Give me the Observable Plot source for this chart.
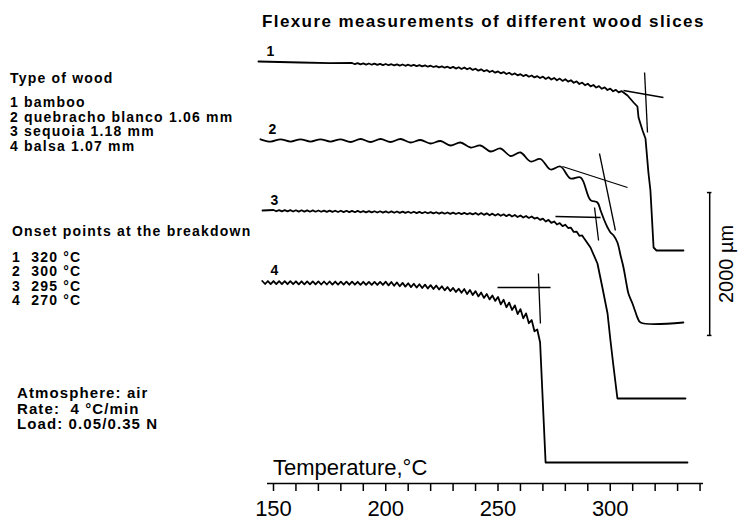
<!DOCTYPE html>
<html><head><meta charset="utf-8">
<script src="https://cdn.jsdelivr.net/npm/d3@7"></script>
<script src="https://cdn.jsdelivr.net/npm/@observablehq/plot@0.6"></script>
<style>
body{margin:0;background:#fff;}
#wrap{position:relative;width:741px;height:529px;overflow:hidden;font-family:"Liberation Sans",Arial,sans-serif;color:#000;background:#fff;}
#wrap svg{position:absolute;left:0;top:0;}
.t{position:absolute;white-space:pre;line-height:1;}
</style></head><body><div id="wrap"></div>
<script>
// ---------------- data ----------------
const chartTitle = "Flexure measurements of different wood slices";
const xTitle = "Temperature,\u00B0C";
const curveIds = ["1", "2", "3", "4"];
const woodTypes = ["bamboo", "quebracho blanco 1.06 mm", "sequoia 1.18 mm", "balsa 1.07 mm"];
const onsetTemps = [320, 300, 295, 270];
const conditions = ["Atmosphere: air", "Rate:  4 \u00B0C/min", "Load: 0.05/0.35 N"];
const curveOffsets = [0, -1100, -2100, -3100]; // vertical shift of each trace (µm)
const xTicks = [150,160,170,180,190,200,210,220,230,240,250,260,270,280,290,300,310,320,330,340];
const xTickLabels = [150, 200, 250, 300];
const scaleBarT = 344.3;
const scaleBarY = [-1835, -3835];   // 2000 µm
const scaleBarLabel = "2000 \u00B5m";

// [temperature °C, deflection µm]
const bamboo = [[143.3,0],[162,-14],[175,-22],[185,-21],[186.25,-38],[187.5,-23],[188.75,-40],[190,-26],[191.25,-43],[192.5,-28],[193.75,-45],[195,-30],[196.25,-48],[197.5,-33],[198.75,-50],[200,-35],[201.25,-52],[202.5,-38],[203.75,-55],[205,-40],[206.25,-57],[207.5,-42],[208.75,-60],[210,-45],[211.25,-62],[212.5,-47],[213.75,-64],[215,-50],[216.25,-68],[217.5,-54],[218.75,-73],[220,-59],[221.25,-77],[222.5,-64],[223.75,-82],[225,-69],[226.25,-87],[227.5,-73],[228.75,-92],[230,-75],[231.25,-99],[232.5,-80],[233.75,-104],[235,-84],[236.25,-109],[237.5,-91],[238.75,-118],[240,-101],[241.25,-128],[242.5,-110],[243.75,-137],[245,-120],[246.25,-147],[247.5,-129],[248.75,-156],[250,-139],[251.25,-166],[252.5,-148],[253.75,-175],[255,-158],[256.25,-185],[257.5,-167],[258.75,-194],[260,-177],[261.25,-204],[262.5,-186],[263.75,-213],[265,-196],[266.25,-223],[267.5,-205],[268.75,-232],[270,-212],[271.25,-244],[272.5,-221],[273.75,-253],[275,-230],[276.25,-263],[277.5,-239],[278.75,-272],[280,-248],[281.25,-282],[282.5,-262],[283.75,-298],[285,-279],[286.25,-315],[287.5,-295],[288.75,-332],[290,-312],[291.25,-348],[292.5,-329],[293.75,-365],[295,-345],[296.25,-382],[297.5,-362],[298.75,-399],[300,-380],[301.25,-416],[302.5,-397],[303.75,-433],[305,-414],[305.9,-434],[307.7,-476],[310.4,-574],[312.1,-630],[312.6,-784],[314.4,-966],[315.7,-1078],[317,-1554],[317.9,-1806],[319.3,-2604],[320.6,-2646],[332.6,-2646]];
const quebracho = [[144.2,11],[148.7,-22],[153.1,11],[157.6,-22],[162.0,11],[166.5,-22],[170.9,11],[175.4,-22],[179.8,11],[184.3,-27],[188.8,15],[193.2,-27],[197.7,15],[202.1,-27],[206.6,15],[211.0,-34],[215.5,1],[219.9,-48],[224.4,-13],[228.8,-76],[233.3,-34],[237.8,-104],[242.2,-76],[246.7,-160],[251.1,-118],[255.6,-223],[260.0,-174],[264.5,-300],[268.9,-265],[273.4,-412],[277.8,-370],[282.3,-538],[286.8,-524],[291.2,-840],[294.3,-874],[295.7,-986],[297.4,-1126],[298.8,-1224],[300.1,-1294],[301.5,-1336],[303.2,-1434],[304.6,-1616],[305.9,-1784],[307.2,-2008],[308.1,-2148],[309.9,-2288],[311.3,-2414],[312.1,-2484],[313.5,-2554],[332.6,-2554]];
const sequoia = [[145.1,14],[150,21],[151.25,3],[152.5,20],[153.75,2],[155,19],[156.25,1],[157.5,19],[158.75,0],[160,18],[161.25,-1],[162.5,17],[163.75,-2],[165,16],[166.25,-3],[167.5,15],[168.75,-3],[170,14],[171.25,-4],[172.5,13],[173.75,-5],[175,12],[176.25,-6],[177.5,11],[178.75,-7],[180,11],[181.25,-8],[182.5,10],[183.75,-9],[185,9],[186.25,-10],[187.5,8],[188.75,-11],[190,6],[191.25,-12],[192.5,5],[193.75,-13],[195,4],[196.25,-14],[197.5,3],[198.75,-16],[200,2],[201.25,-17],[202.5,1],[203.75,-18],[205,0],[206.25,-19],[207.5,-1],[208.75,-20],[210,-3],[211.25,-21],[212.5,-4],[213.75,-22],[215,-5],[216.25,-24],[217.5,-7],[218.75,-25],[220,-8],[221.25,-27],[222.5,-10],[223.75,-29],[225,-12],[226.25,-31],[227.5,-14],[228.75,-33],[230,-16],[231.25,-35],[232.5,-18],[233.75,-37],[235,-20],[236.25,-39],[237.5,-22],[238.75,-40],[240,-20],[241.25,-45],[242.5,-22],[243.75,-47],[245,-26],[246.25,-52],[247.5,-30],[248.75,-56],[250,-34],[251.25,-60],[252.5,-39],[253.75,-65],[255,-43],[256.25,-70],[257.5,-49],[258.75,-77],[260,-56],[261.25,-84],[262.5,-63],[263.75,-90],[265,-70],[266.25,-99],[267.5,-85],[268.75,-118],[270,-99],[271.25,-140],[272.5,-117],[273.75,-159],[275,-139],[276.25,-182],[277.5,-162],[278.75,-205],[280,-185],[281.25,-231],[282.5,-227],[283.75,-286],[285,-281],[286.25,-340],[287.5,-335],[288.1,-364],[291.2,-504],[294.3,-728],[296.5,-1064],[298.8,-1428],[300.1,-1806],[301.4,-2156],[303.2,-2618],[333.5,-2618]];
const balsa = [[145,27],[146.25,-15],[147.5,26],[148.75,-16],[150,26],[151.25,-17],[152.5,25],[153.75,-17],[155,24],[156.25,-18],[157.5,24],[158.75,-18],[160,23],[161.25,-19],[162.5,23],[163.75,-20],[165,22],[166.25,-20],[167.5,21],[168.75,-21],[170,21],[171.25,-22],[172.5,20],[173.75,-22],[175,20],[176.25,-23],[177.5,19],[178.75,-23],[180,18],[181.25,-24],[182.5,18],[183.75,-25],[185,17],[186.25,-25],[187.5,16],[188.75,-26],[190,16],[191.25,-27],[192.5,15],[193.75,-27],[195,15],[196.25,-28],[197.5,14],[198.75,-28],[200,17],[201.25,-34],[202.5,13],[203.75,-40],[205,7],[206.25,-46],[207.5,1],[208.75,-52],[210,-5],[211.25,-59],[212.5,-12],[213.75,-65],[215,-18],[216.25,-71],[217.5,-24],[218.75,-77],[220,-31],[221.25,-84],[222.5,-37],[223.75,-91],[225,-47],[226.25,-103],[227.5,-58],[228.75,-114],[230,-70],[231.25,-126],[232.5,-82],[233.75,-137],[235,-86],[236.25,-156],[237.5,-98],[238.75,-169],[240,-115],[241.25,-189],[242.5,-135],[243.75,-210],[245,-156],[246.25,-230],[247.5,-176],[248.75,-251],[250,-196],[251.25,-300],[252.5,-236],[253.75,-340],[255,-275],[256.25,-379],[257.5,-314],[258.75,-436],[260,-366],[261.25,-496],[262.5,-426],[263.75,-564],[265,-520],[266.25,-677],[267.5,-652],[268.75,-831],[271.2,-2514],[334.4,-2514]];
const curveData = [bamboo, quebracho, sequoia, balsa];

// onset construction lines: [T1, y1, T2, y2] (absolute µm positions)
const onsetLines = [
  [305.9,-406,323.7,-504],[315.3,-154,316.6,-994],
  [278.7,-1470,307.7,-1764],[295.2,-1288,302.3,-2366],
  [275.6,-2170,295.7,-2184],[293.0,-2044,294.8,-2506],
  [249.8,-3164,273.4,-3164],[268.0,-2968,268.9,-3668]
];

// ---------------- build ----------------
const rows = [];
curveData.forEach((c, i) => c.forEach(([T, d]) => rows.push({id: curveIds[i], T, y: curveOffsets[i] + d})));
const labelRows = curveData.map((c, i) => ({id: curveIds[i], T: c[0][0], y: curveOffsets[i] + c[0][1]}));
const segs = onsetLines.map(([x1, y1, x2, y2]) => ({x1, y1, x2, y2}));
const yDomain = [-5908, 854];

const chart = Plot.plot({
  width: 741, height: 529,
  marginLeft: 267, marginRight: 38, marginTop: 0, marginBottom: 46,
  x: {domain: [147.33, 341.54]},
  y: {domain: yDomain, axis: null},
  style: {fontFamily: "'Liberation Sans', Arial, sans-serif", background: "transparent", overflow: "visible", color: "black"},
  marks: [
    Plot.ruleY([yDomain[0]], {stroke: "black", strokeWidth: 1.6}),
    Plot.axisX({ticks: xTicks, tickSize: 8, tickPadding: 9, strokeWidth: 1.5,
      tickFormat: d => xTickLabels.includes(d) ? String(d) : "", fontSize: 22, label: null}),
    Plot.line(rows.filter(r => r.id !== "2"), {x: "T", y: "y", z: "id", stroke: "black", strokeWidth: 1.8}),
    Plot.line(rows.filter(r => r.id === "2"), {x: "T", y: "y", stroke: "black", strokeWidth: 1.8, curve: "catmull-rom"}),
    Plot.link(segs, {x1: "x1", y1: "y1", x2: "x2", y2: "y2", stroke: "black", strokeWidth: 1.3}),
    Plot.text(labelRows, {x: "T", y: "y", text: "id", dx: 12, dy: -10, fontSize: 14, fontWeight: "bold"}),
    Plot.ruleX([scaleBarT], {y1: scaleBarY[0], y2: scaleBarY[1], stroke: "black", strokeWidth: 1.5}),
    Plot.ruleY(scaleBarY, {x1: scaleBarT - 1, x2: scaleBarT + 1, stroke: "black", strokeWidth: 1.5}),
    Plot.text([scaleBarLabel], {x: () => scaleBarT + 7.5, y: () => (scaleBarY[0] + scaleBarY[1]) / 2, text: d => d, rotate: -90, fontSize: 20})
  ]
});

const wrap = document.getElementById("wrap");
wrap.appendChild(chart);

function addText(str, left, baseline, size, weight, spacing) {
  const el = document.createElement("div");
  el.className = "t";
  el.textContent = str;
  el.style.left = left + "px";
  el.style.top = (baseline - 0.8465 * size) + "px";
  el.style.fontSize = size + "px";
  el.style.fontWeight = weight;
  el.style.letterSpacing = spacing + "px";
  wrap.appendChild(el);
}
addText(chartTitle, 262, 27, 17, "bold", 1.4);
addText("Type of wood", 10, 83, 14, "bold", 1.2);
woodTypes.forEach((w, i) => addText(curveIds[i] + " " + w, 10, 107 + i * 14.5, 14, "bold", 1.2));
addText("Onset points at the breakdown", 12, 236, 14, "bold", 1.2);
onsetTemps.forEach((t, i) => addText(curveIds[i] + "  " + t + " \u00B0C", 12, 261.5 + i * 14.5, 14, "bold", 1.2));
conditions.forEach((c, i) => addText(c, 17, 398 + i * 15.5, 15, "bold", 1.1));
addText(xTitle, 273, 476, 22, "normal", 0);
</script></body></html>
